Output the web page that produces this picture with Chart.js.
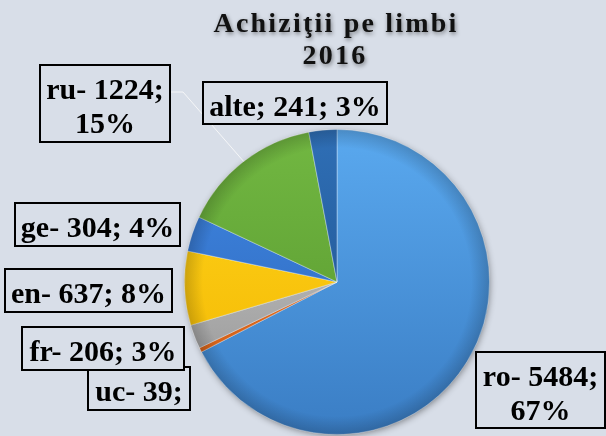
<!DOCTYPE html>
<html>
  <head>
    <title>Achizitii pe limbi 2016</title>
    <script src="https://cdn.jsdelivr.net/npm/chart.js@4.4.0/dist/chart.umd.min.js"></script>
    <style>
      body { margin: 0; background: #d8dee8; }
    </style>
  </head>
  <body>
    <canvas id="myChart" width="606" height="436"></canvas>
    <script>
      // data
      var titleLines = ["Achiziţii pe limbi", "2016"];
      var categories = ["ro", "uc", "fr", "en", "ge", "ru", "alte"];
      var values = [5484, 39, 206, 637, 304, 1224, 241];

      // slice colours: light (top) and dark (bottom) of the gradient
      var lightColors = ["#5aa9ef", "#f07a2a", "#d2d2d2", "#ffd61c", "#4189e4", "#72b842", "#2f6fb6"];
      var darkColors = ["#3a7dc4", "#c95a14", "#8e8e8e", "#f2b400", "#2a62b6", "#55942c", "#1c4e88"];

      // label boxes (layout only): x, y, w, h, split into two lines?
      var boxes = [
        { x: 476, y: 352, w: 129, h: 76, split: true },
        { x: 88, y: 367, w: 102, h: 43, split: false, noPct: true },
        { x: 22, y: 327, w: 162, h: 43, split: false },
        { x: 5, y: 269, w: 167, h: 43, split: false },
        { x: 15, y: 203, w: 165, h: 43, split: false },
        { x: 40, y: 65, w: 130, h: 77, split: true, leader: true },
        { x: 203, y: 82, w: 184, h: 42, split: false }
      ];

      var total = values.reduce(function (a, b) { return a + b; }, 0);
      var percents = values.map(function (v) { return Math.round((v / total) * 100); });

      function labelLines(i) {
        var sep = categories[i] === "alte" ? "; " : "- ";
        var first = categories[i] + sep + values[i] + ";";
        var pct = percents[i] + "%";
        if (boxes[i].noPct) return [first];
        if (boxes[i].split) return [first, pct];
        return [first + " " + pct];
      }

      var bgPlugin = {
        id: "bg",
        beforeDraw: function (chart) {
          var c = chart.ctx;
          c.save();
          c.fillStyle = "#d8dee8";
          c.fillRect(0, 0, chart.width, chart.height);
          c.restore();
        },
        beforeDatasetsDraw: function (chart) {
          // soft shadow under the pie
          var arc = chart.getDatasetMeta(0).data[0];
          var c = chart.ctx;
          c.save();
          c.shadowColor = "rgba(0,0,0,0.45)";
          c.shadowBlur = 7;
          c.shadowOffsetX = 1;
          c.shadowOffsetY = 2;
          c.fillStyle = "#4a8fd6";
          c.beginPath();
          c.arc(arc.x, arc.y, arc.outerRadius - 1, 0, Math.PI * 2);
          c.fill();
          c.restore();
        },
        afterDatasetsDraw: function (chart) {
          // darker rim for a bevelled look
          var arc = chart.getDatasetMeta(0).data[0];
          var c = chart.ctx;
          var r = arc.outerRadius;
          c.save();
          var g = c.createRadialGradient(arc.x, arc.y, r * 0.88, arc.x, arc.y, r);
          g.addColorStop(0, "rgba(0,0,0,0)");
          g.addColorStop(1, "rgba(0,0,0,0.18)");
          c.fillStyle = g;
          c.beginPath();
          c.arc(arc.x, arc.y, r, 0, Math.PI * 2);
          c.fill();
          c.restore();
        },
        afterDraw: function (chart) {
          var c = chart.ctx;
          var arcs = chart.getDatasetMeta(0).data;
          c.save();

          // title
          c.font = 'bold 28px "Liberation Serif"';
          c.textAlign = "center";
          c.fillStyle = "#111";
          c.letterSpacing = "2.2px";
          c.shadowColor = "rgba(0,0,0,0.45)";
          c.shadowBlur = 4;
          c.shadowOffsetX = 1;
          c.shadowOffsetY = 2;
          c.fillText(titleLines[0], 336, 32);
          c.fillText(titleLines[1], 335, 64);
          c.shadowColor = "transparent";
          c.letterSpacing = "0px";

          // leader line to the ru slice
          boxes.forEach(function (b, i) {
            if (!b.leader) return;
            var a = arcs[i];
            var mid = (a.startAngle + a.endAngle) / 2;
            var ex = a.x + Math.cos(mid) * a.outerRadius;
            var ey = a.y + Math.sin(mid) * a.outerRadius;
            c.strokeStyle = "rgba(250,250,250,0.85)";
            c.lineWidth = 1;
            c.beginPath();
            c.moveTo(b.x + b.w, b.y + 27);
            c.lineTo(b.x + b.w + 13, b.y + 27);
            c.lineTo(ex, ey);
            c.stroke();
          });

          // label boxes
          c.font = 'bold 30px "Liberation Serif"';
          boxes.forEach(function (b, i) {
            c.fillStyle = "#d8dee8";
            c.fillRect(b.x, b.y, b.w, b.h);
            c.strokeStyle = "#000";
            c.lineWidth = 2;
            c.strokeRect(b.x, b.y, b.w, b.h);
            c.fillStyle = "#000";
            c.textAlign = "center";
            labelLines(i).forEach(function (t, k) {
              c.fillText(t, b.x + b.w / 2, b.y + 34 + k * 34);
            });
          });
          c.restore();
        }
      };

      var ctx = document.getElementById("myChart").getContext("2d");

      var chart = new Chart(ctx, {
        type: "pie",
        data: {
          labels: categories,
          datasets: [
            {
              data: values,
              backgroundColor: function (context) {
                var area = context.chart.chartArea;
                if (!area) return lightColors[context.dataIndex];
                var g = context.chart.ctx.createLinearGradient(0, area.top, 0, area.bottom);
                g.addColorStop(0, lightColors[context.dataIndex]);
                g.addColorStop(1, darkColors[context.dataIndex]);
                return g;
              },
              borderColor: "rgba(255,255,255,0.35)",
              borderWidth: 1
            }
          ]
        },
        options: {
          responsive: false,
          animation: false,
          layout: { padding: { top: 129, bottom: 1, left: 68, right: 0 } },
          plugins: {
            legend: { display: false },
            tooltip: { enabled: false },
            title: { display: false }
          }
        },
        plugins: [bgPlugin]
      });
    </script>
  </body>
</html>
